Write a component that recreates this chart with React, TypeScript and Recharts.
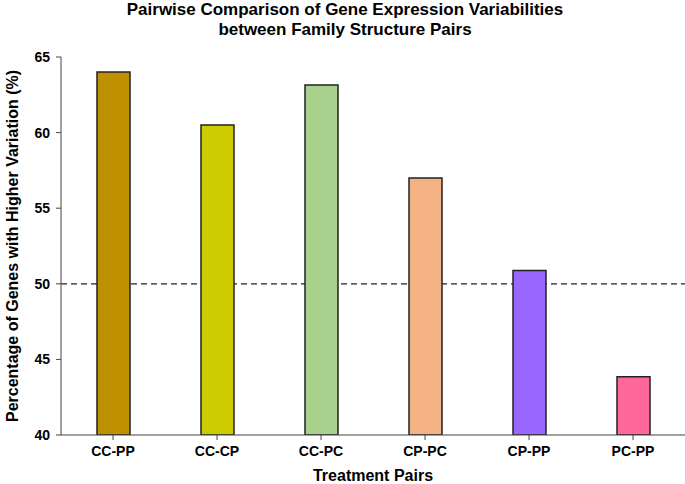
import React from "react";
import { BarChart, Bar, XAxis, YAxis, Cell, ReferenceLine } from "recharts";

const pairs = ["CC-PP", "CC-CP", "CC-PC", "CP-PC", "CP-PP", "PC-PP"];
const percentHigher = [64.0, 60.5, 63.15, 57.0, 50.88, 43.86];
const barColors = ["#BF9000", "#CCCC00", "#A9D18E", "#F4B183", "#9966FF", "#FF6699"];
const yTicks = [40, 45, 50, 55, 60, 65];

const data = pairs.map((name, i) => ({ name, value: percentHigher[i] }));

const font = "'Liberation Sans', Arial, sans-serif";

export default function App() {
  return (
    <div style={{ position: "absolute", left: 0, top: 0, width: 685, height: 484, fontFamily: font }}>
      <div
        style={{
          position: "absolute",
          left: 0,
          top: 0,
          width: 690,
          textAlign: "center",
          fontWeight: "bold",
          fontSize: 17,
          lineHeight: "20px",
          color: "#000",
        }}
      >
        Pairwise Comparison of Gene Expression Variabilities
        <br />
        between Family Structure Pairs
      </div>
      <BarChart
        width={685}
        height={484}
        data={data}
        margin={{ top: 57, right: 0, left: 0, bottom: 0 }}
        barCategoryGap={0}
      >
        <XAxis
          dataKey="name"
          height={49}
          stroke="#444"
          tickSize={5}
          tickMargin={6}
          tick={{ fill: "#000", fontSize: 14, fontWeight: "bold", fontFamily: font }}
          label={{
            value: "Treatment Pairs",
            position: "insideBottom",
            offset: 3,
            style: { fill: "#000", fontSize: 16, fontWeight: "bold", fontFamily: font },
          }}
        />
        <YAxis
          width={61}
          domain={[40, 65]}
          ticks={yTicks}
          allowDataOverflow
          stroke="#444"
          tickSize={5}
          tickMargin={6}
          tick={{ fill: "#000", fontSize: 14, fontWeight: "bold", fontFamily: font }}
          label={{
            value: "Percentage of Genes with Higher Variation (%)",
            angle: -90,
            position: "insideLeft",
            offset: 12,
            style: { textAnchor: "middle", fill: "#000", fontSize: 16, fontWeight: "bold", fontFamily: font },
          }}
        />
        <ReferenceLine y={50} stroke="#222" strokeDasharray="6 4" strokeWidth={1.2} zIndex={50} />
        <Bar dataKey="value" barSize={33} stroke="#222" strokeWidth={1.5} isAnimationActive={false}>
          {data.map((d, i) => (
            <Cell key={d.name} fill={barColors[i]} />
          ))}
        </Bar>
      </BarChart>
    </div>
  );
}
